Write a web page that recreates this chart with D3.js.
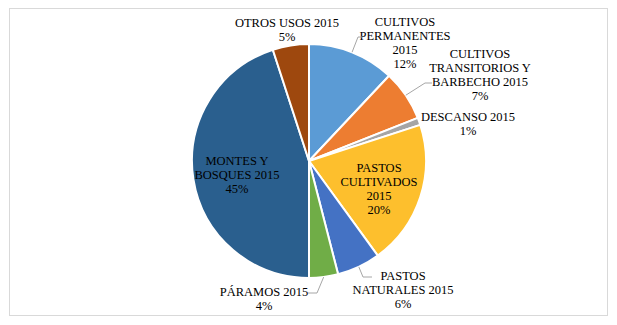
<!DOCTYPE html>
<html><head><meta charset="utf-8">
<script src="https://cdn.jsdelivr.net/npm/d3@7"></script>
<style>body{margin:0;background:#fff}svg{display:block}</style>
</head><body>
<script>
const categories = ["CULTIVOS PERMANENTES 2015","CULTIVOS TRANSITORIOS Y BARBECHO 2015","DESCANSO 2015","PASTOS CULTIVADOS 2015","PASTOS NATURALES 2015","PÁRAMOS 2015","MONTES Y BOSQUES 2015","OTROS USOS 2015"];
const values = [12, 7, 1, 20, 6, 4, 45, 5];
const percentLabels = ["12%","7%","1%","20%","6%","4%","45%","5%"];
const labelLines = [
  ["CULTIVOS","PERMANENTES","2015"],
  ["CULTIVOS","TRANSITORIOS Y","BARBECHO 2015"],
  ["DESCANSO 2015"],
  ["PASTOS","CULTIVADOS","2015"],
  ["PASTOS","NATURALES 2015"],
  ["PÁRAMOS 2015"],
  ["MONTES Y","BOSQUES 2015"],
  ["OTROS USOS 2015"]
];
const colors = ["#5B9BD5","#ED7D31","#A5A5A5","#FDBF2D","#4472C4","#70AD47","#2A5F8E","#9E480E"];

const W=617,H=325, cx=309, cy=161, R=117;
const svg=d3.select("body").append("svg").attr("width",W).attr("height",H);
svg.append("rect").attr("x",9.5).attr("y",8.5).attr("width",598).attr("height",307).attr("fill","#fff").attr("stroke","#d9d9d9").attr("stroke-width",1);

const data = categories.map((c,i)=>({c, v:values[i], i}));
const pie = d3.pie().value(d=>d.v).sort(null);
const arcs = pie(data);
const arc = d3.arc().innerRadius(0).outerRadius(R);
const g = svg.append("g").attr("transform",`translate(${cx},${cy})`);
g.selectAll("path").data(arcs).join("path").attr("d",arc)
  .attr("fill",d=>colors[d.data.i]).attr("stroke","#fff").attr("stroke-width",2).attr("stroke-linejoin","round");

const labelPos = [
  {x:405, y:21}, {x:480, y:53}, {x:468, y:116}, {x:379, y:167},
  {x:403, y:275}, {x:264, y:291}, {x:237, y:160}, {x:287, y:22}
];
const lh = 14.3;
const font = "'Liberation Serif','Times New Roman',serif";
arcs.forEach((a,k)=>{
  const p = labelPos[k];
  const lines = labelLines[k].concat([percentLabels[k]]);
  const t = svg.append("text").attr("font-family",font).attr("font-size",12.5).attr("fill","#000")
    .attr("text-anchor","middle");
  lines.forEach((ln,j)=>{
    t.append("tspan").attr("x",p.x).attr("y",p.y+j*lh+4.5).text(ln);
  });
});

function edgePt(a, frac){
  const ang = a.startAngle + (a.endAngle-a.startAngle)*frac;
  return [cx + R*Math.sin(ang), cy - R*Math.cos(ang)];
}
const leaders = [
  {k:0, frac:0.5, pts:[[358,37],[362,37]]},
  {k:1, frac:0.5, pts:[[425,83],[432,83]]},
  {k:4, frac:0.5, pts:[[363,277],[372,277]]},
  {k:5, frac:0.5, pts:[[317,293],[308,293]]}
];
leaders.forEach(L=>{
  const s = edgePt(arcs[L.k], L.frac);
  const pts=[s].concat(L.pts);
  svg.append("path").attr("d",d3.line()(pts)).attr("fill","none").attr("stroke","#a6a6a6").attr("stroke-width",1);
});
</script>
</body></html>
